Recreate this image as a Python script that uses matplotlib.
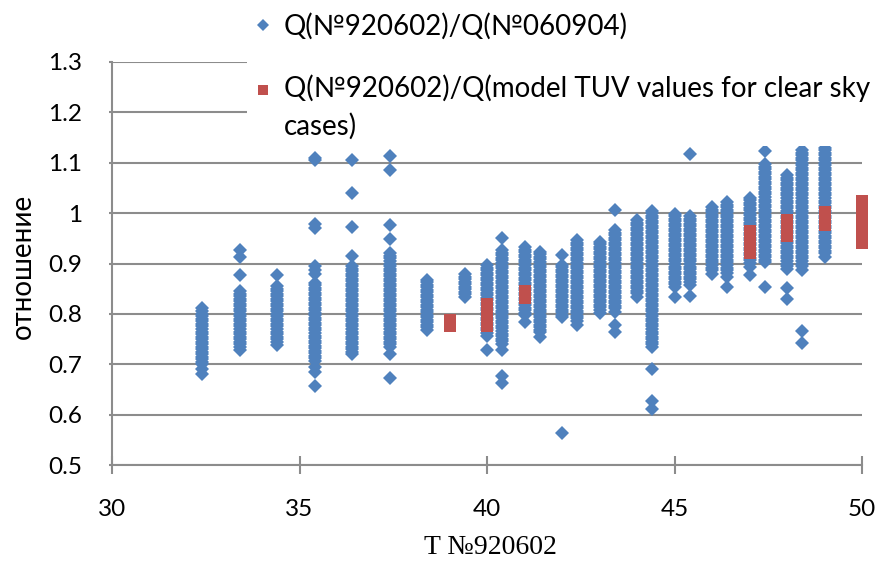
import numpy as np
import matplotlib
matplotlib.use("Agg")
import matplotlib.pyplot as plt
from matplotlib.lines import Line2D
from matplotlib.legend_handler import HandlerLine2D

plt.rcParams['font.family'] = ['Lato', 'DejaVu Sans']

# ---------------- data (ratios in thousandths) ----------------
blue_t = [32.4, 33.4, 34.4, 35.4, 36.4, 37.4, 38.4, 39.4, 40.0, 40.4, 41.0, 41.4,
          42.0, 42.4, 43.0, 43.4, 44.0, 44.4, 45.0, 45.4, 46.0, 46.4, 47.0, 47.4,
          48.0, 48.4, 49.0]
blue_q_milli = [
    [812, 806, 800, 795, 790, 785, 780, 775, 770, 765, 760, 755, 750, 745, 740, 735, 730,
     725, 720, 715, 710, 705, 700, 690, 680],
    [926, 912, 877, 845, 840, 835, 830, 825, 820, 815, 810, 805, 800, 795, 790, 785, 780,
     775, 770, 765, 760, 755, 750, 745, 740, 735, 728],
    [877, 855, 850, 845, 840, 835, 830, 825, 820, 815, 810, 805, 800, 795, 790, 785, 780,
     775, 770, 765, 760, 755, 750, 745, 738],
    [1110, 1105, 978, 970, 895, 888, 880, 862, 857, 852, 847, 842, 837, 832, 827, 822,
     817, 812, 807, 802, 797, 792, 787, 782, 777, 772, 767, 762, 757, 752, 747, 742, 737,
     732, 727, 722, 717, 712, 707, 695, 685, 657],
    [1105, 1039, 972, 915, 895, 890, 885, 880, 875, 870, 865, 860, 855, 850, 845, 840,
     835, 830, 825, 820, 815, 810, 805, 800, 795, 790, 785, 780, 775, 770, 765, 760, 755,
     750, 745, 740, 735, 730, 725, 720],
    [1114, 1085, 976, 948, 920, 915, 910, 905, 900, 895, 890, 885, 880, 875, 870, 865,
     860, 855, 850, 845, 840, 835, 830, 825, 820, 815, 810, 805, 800, 795, 790, 785, 780,
     775, 770, 765, 760, 755, 750, 745, 740, 735, 720, 672],
    [868, 863, 858, 853, 848, 843, 838, 833, 828, 823, 818, 813, 808, 803, 798, 793, 788,
     783, 778, 773, 768],
    [879, 874, 869, 864, 859, 854, 849, 844, 839, 834],
    [897, 892, 887, 882, 877, 872, 867, 862, 857, 852, 847, 842, 837, 832, 827, 822, 817,
     812, 807, 802, 797, 792, 787, 782, 777, 772, 767, 762, 757, 729],
    [950, 926, 921, 916, 911, 906, 901, 896, 891, 886, 881, 876, 871, 866, 861, 856, 851,
     846, 841, 836, 831, 826, 821, 816, 811, 806, 801, 796, 791, 786, 781, 776, 771, 766,
     761, 756, 751, 746, 741, 729, 677, 662],
    [932, 927, 922, 917, 912, 907, 902, 897, 892, 887, 882, 877, 872, 867, 862, 857, 852,
     847, 842, 837, 832, 827, 822, 817, 812, 807, 802, 797, 784],
    [923, 918, 913, 908, 903, 898, 893, 888, 883, 878, 873, 868, 863, 858, 853, 848, 843,
     838, 833, 828, 823, 818, 813, 808, 803, 798, 793, 788, 783, 778, 773, 768, 764, 754],
    [916, 898, 893, 888, 883, 878, 873, 868, 863, 858, 853, 848, 843, 838, 833, 828, 823,
     818, 813, 808, 803, 798, 793, 564],
    [946, 941, 936, 931, 926, 921, 916, 911, 906, 901, 896, 891, 886, 881, 876, 871, 866,
     861, 856, 851, 846, 841, 836, 831, 826, 821, 816, 811, 806, 801, 796, 791, 786, 778],
    [943, 938, 933, 928, 923, 918, 913, 908, 903, 898, 893, 888, 883, 878, 873, 868, 863,
     858, 853, 848, 843, 838, 833, 828, 823, 818, 813, 808, 801],
    [1007, 966, 961, 956, 951, 946, 941, 936, 931, 926, 921, 916, 911, 906, 901, 896, 891,
     886, 881, 876, 871, 866, 861, 856, 851, 846, 841, 836, 831, 826, 821, 816, 811, 804,
     778, 764],
    [986, 981, 976, 971, 966, 961, 956, 951, 946, 941, 936, 931, 926, 921, 916, 911, 906,
     901, 896, 891, 886, 881, 876, 871, 866, 861, 856, 851, 846, 841, 834],
    [1005, 1000, 995, 990, 985, 980, 975, 970, 965, 960, 955, 950, 945, 940, 935, 930, 925,
     920, 915, 910, 905, 900, 895, 890, 885, 880, 875, 870, 865, 860, 855, 850, 845, 840,
     835, 830, 825, 820, 815, 810, 805, 800, 795, 790, 785, 780, 775, 770, 765, 760, 755,
     750, 745, 740, 735, 690, 627, 612],
    [999, 994, 989, 984, 979, 974, 969, 964, 959, 954, 949, 944, 939, 934, 929, 924, 919,
     914, 909, 904, 899, 894, 889, 884, 879, 874, 869, 864, 859, 854, 833],
    [1118, 994, 989, 984, 979, 974, 969, 964, 959, 954, 949, 944, 939, 934, 929, 924, 919,
     914, 909, 904, 899, 894, 889, 884, 879, 874, 869, 864, 857, 835],
    [1012, 1007, 1002, 997, 992, 987, 982, 977, 972, 967, 962, 957, 952, 947, 942, 937,
     932, 927, 922, 917, 912, 907, 902, 897, 892, 887, 880],
    [1022, 1017, 1012, 1007, 1002, 997, 992, 987, 982, 977, 972, 967, 962, 957, 952, 947,
     942, 937, 932, 927, 922, 917, 912, 907, 902, 897, 892, 887, 882, 873, 854],
    [1031, 1026, 1021, 1016, 1011, 1006, 1001, 996, 991, 986, 981, 976, 971, 966, 961,
     956, 951, 946, 941, 936, 931, 926, 921, 916, 911, 906, 901, 893, 877],
    [1123, 1097, 1092, 1087, 1082, 1077, 1072, 1067, 1062, 1057, 1052, 1047, 1042, 1037,
     1032, 1027, 1022, 1017, 1012, 1007, 1002, 997, 992, 987, 982, 977, 972, 967, 962,
     957, 952, 947, 942, 937, 932, 927, 922, 917, 912, 907, 903, 854],
    [1075, 1070, 1065, 1060, 1055, 1050, 1045, 1040, 1035, 1030, 1025, 1020, 1015, 1010,
     1005, 1000, 995, 990, 985, 980, 975, 970, 965, 960, 955, 950, 945, 940, 935, 930,
     925, 920, 915, 910, 905, 900, 895, 890, 852, 829],
    [1125, 1120, 1115, 1110, 1105, 1100, 1095, 1090, 1085, 1080, 1075, 1070, 1065, 1060,
     1055, 1050, 1045, 1040, 1035, 1030, 1025, 1020, 1015, 1010, 1005, 1000, 995, 990,
     985, 980, 975, 970, 965, 960, 955, 950, 945, 940, 935, 930, 925, 920, 915, 910, 905,
     900, 895, 887, 766, 743],
    [1130, 1125, 1120, 1115, 1110, 1105, 1100, 1095, 1090, 1085, 1080, 1075, 1070, 1065,
     1060, 1055, 1050, 1045, 1040, 1035, 1030, 1025, 1020, 1015, 1010, 1005, 1000, 995,
     990, 985, 980, 975, 970, 965, 960, 955, 950, 945, 940, 935, 930, 925, 920, 913],
]

red_t = [39, 40, 41, 47, 48, 49, 50]
red_q_milli = [
    [787, 775],
    [819, 805, 790, 776],
    [845, 831],
    [964, 950, 935, 921],
    [987, 970, 954],
    [1002, 988, 976],
    [1025, 1010, 995, 980, 965, 950, 940],
]

x_ticks = [30, 35, 40, 45, 50]
y_ticks = [0.5, 0.6, 0.7, 0.8, 0.9, 1.0, 1.1, 1.2, 1.3]

label_blue = "Q(№920602)/Q(№060904)"
label_red = "Q(№920602)/Q(model TUV values for clear sky\ncases)"
x_label = "T №920602"
y_label = "отношение"

BLUE = "#4F81BD"
RED = "#C0504D"
GRID = "#8C8C8C"

# ---------------- figure ----------------
W, H = 879, 562
fig = plt.figure(figsize=(W / 100, H / 100), dpi=100)
ax = fig.add_axes([112 / W, 1 - 465 / H, 750 / W, 403 / H])

bx = np.concatenate([[t] * len(q) for t, q in zip(blue_t, blue_q_milli)])
by = np.concatenate(blue_q_milli) / 1000.0
rx = np.concatenate([[t] * len(q) for t, q in zip(red_t, red_q_milli)])
ry = np.concatenate(red_q_milli) / 1000.0

ax.plot(bx, by, linestyle='none', marker='D', markersize=6.8, color=BLUE,
        markeredgewidth=0, zorder=3, clip_on=False, label=label_blue)
ax.plot(rx, ry, linestyle='none', marker='s', markersize=8.8, color=RED,
        markeredgewidth=0, zorder=4, clip_on=False, label=label_red)

ax.set_xlim(30, 50)
ax.set_ylim(0.5, 1.3)
ax.set_xticks(x_ticks)
ax.set_yticks(y_ticks)
ax.set_xticklabels([f"{v:g}" for v in x_ticks])
ax.set_yticklabels([f"{v:g}" for v in y_ticks])

ax.grid(axis='y', color=GRID, linewidth=1.5, zorder=1)
ax.set_axisbelow(True)
for s in ['top', 'right']:
    ax.spines[s].set_visible(False)
for s in ['left', 'bottom']:
    ax.spines[s].set_color(GRID)
    ax.spines[s].set_linewidth(1.5)

ax.tick_params(axis='x', direction='inout', length=13.5, width=1.5, color=GRID,
               labelsize=17.5, pad=18, labelcolor='black')
ax.tick_params(axis='y', direction='out', length=2.5, width=1.5, color=GRID,
               labelsize=17.5, pad=19, labelcolor='black')

ax.set_xlabel(x_label, fontsize=20, family=['Liberation Serif', 'DejaVu Serif'])
ax.xaxis.label.set_va('center')
ax.xaxis.set_label_coords(0.505, -82 / 403)
ax.set_ylabel(y_label, fontsize=20)
ax.yaxis.set_label_coords((36 - 112) / 750, 0.494)


class UpHandler(HandlerLine2D):
    def __init__(self, dy=0, **kw):
        super().__init__(**kw)
        self.dy = dy

    def create_artists(self, legend, orig_handle, xdescent, ydescent, width,
                       height, fontsize, trans):
        arts = super().create_artists(legend, orig_handle, xdescent, ydescent,
                                      width, height, fontsize, trans)
        for a in arts:
            a.set_ydata(np.asarray(a.get_ydata()) + self.dy)
        return arts


h_blue = Line2D([], [], linestyle='none', marker='D', markersize=6.0, color=BLUE,
                markeredgewidth=0)
h_red = Line2D([], [], linestyle='none', marker='s', markersize=7.5, color=RED,
               markeredgewidth=0)
leg = ax.legend([h_blue, h_red], [label_blue, label_red],
                handler_map={h_red: UpHandler(dy=13)},
                loc='upper left', bbox_to_anchor=(247 / W, 1.0 - 7 / H),
                bbox_transform=fig.transFigure, frameon=True, fancybox=False,
                facecolor='white', edgecolor='none', framealpha=1,
                fontsize=20, handlelength=0.7, handletextpad=0.4,
                labelspacing=1.25, borderpad=0.22, borderaxespad=0)
leg.set_zorder(10)
leg.get_texts()[1].set_linespacing(1.5)

fig.savefig("out.png", dpi=100, facecolor='white')
